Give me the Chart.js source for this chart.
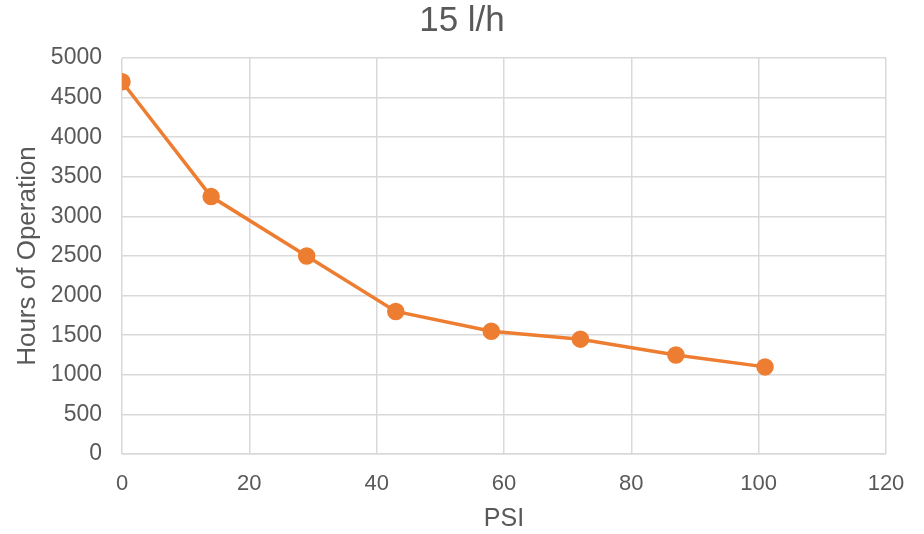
<!DOCTYPE html>
<html>
<head>
<meta charset="utf-8">
<script src="https://cdn.jsdelivr.net/npm/chart.js@4"></script>
<style>
  html, body { margin: 0; padding: 0; background: #fff; }
  #wrap { width: 924px; height: 534px; position: relative; }
</style>
</head>
<body>
<div id="wrap"><canvas id="psi-chart"></canvas></div>
<script>
const psi = [0, 14, 29, 43, 58, 72, 87, 101];
const hours = [4700, 3250, 2500, 1800, 1550, 1450, 1250, 1100];

const textColor = '#595959';
const gridColor = '#d9d9d9';
const font = 'Liberation Sans, Arial, sans-serif';

new Chart(document.getElementById('psi-chart'), {
    type: 'scatter',
    data: {
        datasets: [
            {
                label: '15 l/h',
                data: psi.map((x, i) => ({ x: x, y: hours[i] })),
                showLine: true,
                borderColor: '#ED7D31',
                backgroundColor: '#ED7D31',
                borderWidth: 3.5,
                pointRadius: 7,
                pointHoverRadius: 7,
                tension: 0
            }
        ]
    },
    options: {
        responsive: true,
        maintainAspectRatio: false,
        animation: false,
        layout: { padding: { top: 0, right: 10, bottom: 0, left: 10 } },
        scales: {
            x: {
                type: 'linear',
                min: 0,
                max: 120,
                ticks: { stepSize: 20, color: textColor, font: { family: font, size: 22 }, padding: 17 },
                grid: { color: gridColor, lineWidth: 1.5, drawTicks: false },
                border: { color: gridColor, width: 1.5 },
                title: { display: true, text: 'PSI', color: textColor, font: { family: font, size: 25 }, padding: { top: 4, bottom: 0 } },
                afterFit: (scale) => { scale.height = 80; }
            },
            y: {
                min: 0,
                max: 5000,
                ticks: {
                    stepSize: 500,
                    color: textColor,
                    font: { family: font, size: 23 },
                    padding: 20,
                    callback: (v) => String(v)
                },
                grid: { color: gridColor, lineWidth: 1.5, drawTicks: false },
                border: { display: false },
                title: { display: true, text: 'Hours of Operation', color: textColor, font: { family: font, size: 26 }, padding: { top: 2, bottom: 4 } },
                afterFit: (scale) => { scale.width = 112; }
            },
            // empty spacer on the right so the title centres on the page
            yRight: {
                position: 'right',
                min: 0,
                max: 5000,
                ticks: { display: false },
                grid: { display: false },
                border: { display: false },
                afterFit: (scale) => { scale.width = 28; }
            }
        },
        plugins: {
            legend: { display: false },
            tooltip: { enabled: false },
            title: {
                display: true,
                text: '15 l/h',
                color: textColor,
                font: { family: font, size: 35, weight: 'normal' },
                padding: { top: 0, bottom: 16 }
            }
        }
    }
});
</script>
</body>
</html>
